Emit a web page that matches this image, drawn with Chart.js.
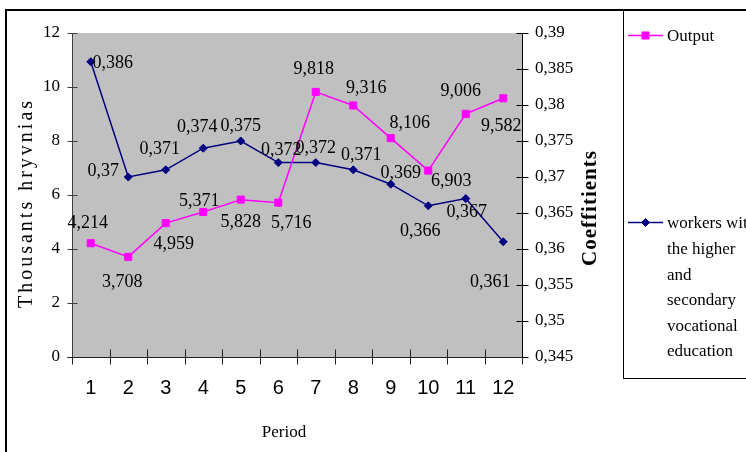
<!DOCTYPE html>
<html>
<head>
<meta charset="utf-8">
<script src="https://cdn.jsdelivr.net/npm/chart.js@4.4.1/dist/chart.umd.min.js"></script>
<style>
  html, body { margin: 0; padding: 0; background: #ffffff; }
  canvas { display: block; }
</style>
</head>
<body>
<canvas id="chart" width="746" height="452"></canvas>
<script>
// Periods on the horizontal axis
const periods = ['1', '2', '3', '4', '5', '6', '7', '8', '9', '10', '11', '12'];
// Output, thousand hryvnias (left axis)
const output = [4.214, 3.708, 4.959, 5.371, 5.828, 5.716, 9.818, 9.316, 8.106, 6.903, 9.006, 9.582];
// Share of workers with higher and secondary vocational education (right axis)
const coefficients = [0.386, 0.370, 0.371, 0.374, 0.375, 0.372, 0.372, 0.371, 0.369, 0.366, 0.367, 0.361];

// Axis ticks
const leftTicks = [0, 2, 4, 6, 8, 10, 12];
const leftTickLabels = ['0', '2', '4', '6', '8', '10', '12'];
const rightTicks = [0.345, 0.35, 0.355, 0.36, 0.365, 0.37, 0.375, 0.38, 0.385, 0.39];
const rightTickLabels = ['0,345', '0,35', '0,355', '0,36', '0,365', '0,37', '0,375', '0,38', '0,385', '0,39'];

// Series names and how they wrap in the legend box
const seriesNames = ['Output', 'workers with the higher and secondary vocational education'];
const legendLines = [
  ['Output'],
  ['workers with', 'the higher', 'and', 'secondary', 'vocational', 'education']
];

// Where each value label sits, in px from its point
const outputLabelShift = [[-3, -20], [-6, 25], [8, 21], [-4, -11], [0, 23], [13, 21],
                          [-2, -23], [13, -17], [19, -15], [23, 11], [-5, -23], [-2, 28]];
const coefLabelShift = [[22, 1], [-25, -6], [-6, -21], [-6, -21], [0, -15], [3, -12],
                        [0, -14], [8, -15], [10, -11], [-8, 25], [1, 14], [-13, 40]];

const SERIF = "'Liberation Serif', 'Times New Roman', serif";
const SANS = "'Liberation Sans', Arial, sans-serif";
const MAGENTA = '#ff00ff';
const NAVY = '#000080';

const fmt = v => String(v).replace('.', ',');

// Grey plot area and outer frame
const plotBackground = {
  id: 'plotBackground',
  beforeDraw(chart) {
    const { ctx, chartArea: a } = chart;
    ctx.save();
    ctx.fillStyle = '#ffffff';
    ctx.fillRect(0, 0, chart.width, chart.height);
    ctx.fillStyle = '#c0c0c0';
    ctx.fillRect(a.left, a.top, a.right - a.left, a.bottom - a.top);
    // outer frame
    ctx.fillStyle = '#000000';
    ctx.fillRect(5, 9, 2, chart.height - 9);
    ctx.fillRect(5, 9, chart.width - 5, 2);
    ctx.restore();
  }
};

// Axis lines with crossing tick marks
const axisLines = {
  id: 'axisLines',
  beforeDatasetsDraw(chart) {
    const { ctx, chartArea: a, scales } = chart;
    const L = Math.round(a.left) + 0.5, R = Math.round(a.right) + 0.5, B = Math.round(a.bottom) + 0.5;
    ctx.save();
    ctx.lineWidth = 1;
    // left axis
    ctx.strokeStyle = '#404040';
    ctx.beginPath();
    ctx.moveTo(L, a.top); ctx.lineTo(L, B);
    scales.y.ticks.forEach(t => {
      const y = Math.round(scales.y.getPixelForValue(t.value)) + 0.5;
      ctx.moveTo(L - 5, y); ctx.lineTo(L + 5, y);
    });
    ctx.stroke();
    // right axis
    ctx.strokeStyle = '#000000';
    ctx.beginPath();
    ctx.moveTo(R, a.top); ctx.lineTo(R, B);
    scales.y1.ticks.forEach(t => {
      const y = Math.round(scales.y1.getPixelForValue(t.value)) + 0.5;
      ctx.moveTo(R - 6, y); ctx.lineTo(R + 6, y);
    });
    ctx.stroke();
    // bottom axis with category boundary ticks
    ctx.strokeStyle = '#202020';
    ctx.beginPath();
    ctx.moveTo(L - 5, B); ctx.lineTo(R, B);
    const x = scales.x;
    for (let i = 0; i <= periods.length; i++) {
      const px = Math.round(x.getPixelForValue(i - 0.5)) + 0.5;
      const up = (i === 0 || i === periods.length) ? 0 : 8;
      ctx.moveTo(px, B - up); ctx.lineTo(px, B + 7);
    }
    ctx.stroke();
    ctx.restore();
  }
};

// Value labels next to each point
const valueLabels = {
  id: 'valueLabels',
  afterDatasetsDraw(chart) {
    const { ctx } = chart;
    const shifts = [outputLabelShift, coefLabelShift];
    ctx.save();
    ctx.font = '18px ' + SERIF;
    ctx.fillStyle = '#000000';
    ctx.textAlign = 'center';
    ctx.textBaseline = 'middle';
    chart.data.datasets.forEach((ds, di) => {
      const meta = chart.getDatasetMeta(di);
      meta.data.forEach((pt, i) => {
        const [dx, dy] = shifts[di][i];
        ctx.fillText(fmt(ds.data[i]), pt.x + dx, pt.y + dy);
      });
    });
    ctx.restore();
  }
};

// Axis titles and the boxed legend
const titlesAndLegend = {
  id: 'titlesAndLegend',
  afterDraw(chart) {
    const { ctx } = chart;
    ctx.save();
    ctx.fillStyle = '#000000';
    ctx.textAlign = 'center';
    ctx.textBaseline = 'middle';

    ctx.save();
    ctx.translate(27, 203);
    ctx.rotate(-Math.PI / 2);
    ctx.font = '20px ' + SERIF;
    ctx.letterSpacing = '3px';
    ctx.fillText('Thousants hryvnias', 0, 0);
    ctx.restore();

    ctx.save();
    ctx.translate(591, 208);
    ctx.rotate(-Math.PI / 2);
    ctx.font = 'bold 21px ' + SERIF;
    ctx.letterSpacing = '1px';
    ctx.fillText('Coeffitients', 0, 0);
    ctx.restore();

    ctx.font = '17px ' + SERIF;
    ctx.fillText('Period', 284, 433);

    // legend box
    ctx.fillRect(623, 9, 1, 370);
    ctx.fillRect(623, 378, chart.width - 623, 1);

    const rows = [35, 222];
    chart.data.datasets.forEach((ds, di) => {
      const y = rows[di];
      ctx.strokeStyle = ds.borderColor;
      ctx.lineWidth = 1.5;
      ctx.beginPath();
      ctx.moveTo(628, y + 0.5); ctx.lineTo(663, y + 0.5);
      ctx.stroke();
      ctx.fillStyle = ds.pointBackgroundColor;
      ctx.strokeStyle = ds.pointBorderColor;
      ctx.lineWidth = 1;
      Chart.helpers.drawPoint(ctx, {
        pointStyle: ds.pointStyle, radius: ds.pointRadius, borderWidth: 1
      }, 645.5, y + 0.5);
      ctx.fillStyle = '#000000';
      ctx.textAlign = 'left';
      ctx.font = '17px ' + SERIF;
      legendLines[di].forEach((line, li) => {
        ctx.fillText(line, 667, y + 2 + li * 25.6);
      });
    });
    ctx.restore();
  }
};

new Chart(document.getElementById('chart'), {
  type: 'line',
  data: {
    labels: periods,
    datasets: [
      {
        label: seriesNames[0],
        data: output,
        yAxisID: 'y',
        borderColor: MAGENTA,
        backgroundColor: MAGENTA,
        pointBackgroundColor: MAGENTA,
        pointBorderColor: MAGENTA,
        borderWidth: 1.5,
        pointStyle: 'rect',
        pointRadius: 5,
        pointBorderWidth: 1,
        tension: 0,
        fill: false
      },
      {
        label: seriesNames[1],
        data: coefficients,
        yAxisID: 'y1',
        borderColor: NAVY,
        backgroundColor: NAVY,
        pointBackgroundColor: NAVY,
        pointBorderColor: NAVY,
        borderWidth: 1.5,
        pointStyle: 'rectRot',
        pointRadius: 4,
        pointBorderWidth: 1,
        tension: 0,
        fill: false
      }
    ]
  },
  options: {
    responsive: false,
    animation: false,
    devicePixelRatio: 1,
    layout: { padding: { left: 0, top: 33, right: 134, bottom: 45 } },
    plugins: {
      legend: { display: false },
      tooltip: { enabled: false },
      title: { display: false }
    },
    scales: {
      x: {
        type: 'category',
        offset: true,
        grid: { display: false, drawTicks: false },
        border: { display: false },
        ticks: {
          color: '#000000',
          font: { family: SANS, size: 20 },
          padding: 19,
          maxRotation: 0,
          autoSkip: false
        },
        afterFit(scale) { scale.height = 50; }
      },
      y: {
        position: 'left',
        min: 0,
        max: 12,
        grid: { display: false, drawTicks: false },
        border: { display: false },
        afterBuildTicks(scale) { scale.ticks = leftTicks.map(v => ({ value: v })); },
        ticks: {
          color: '#000000',
          font: { family: SERIF, size: 17 },
          padding: 12,
          callback: (v, i) => leftTickLabels[i]
        },
        afterFit(scale) { scale.width = 72; }
      },
      y1: {
        position: 'right',
        min: 0.345,
        max: 0.39,
        grid: { display: false, drawTicks: false },
        border: { display: false },
        afterBuildTicks(scale) { scale.ticks = rightTicks.map(v => ({ value: v })); },
        ticks: {
          color: '#000000',
          font: { family: SERIF, size: 17 },
          padding: 13,
          callback: (v, i) => rightTickLabels[i]
        },
        afterFit(scale) { scale.width = 90; }
      }
    }
  },
  plugins: [plotBackground, axisLines, valueLabels, titlesAndLegend]
});
</script>
</body>
</html>
